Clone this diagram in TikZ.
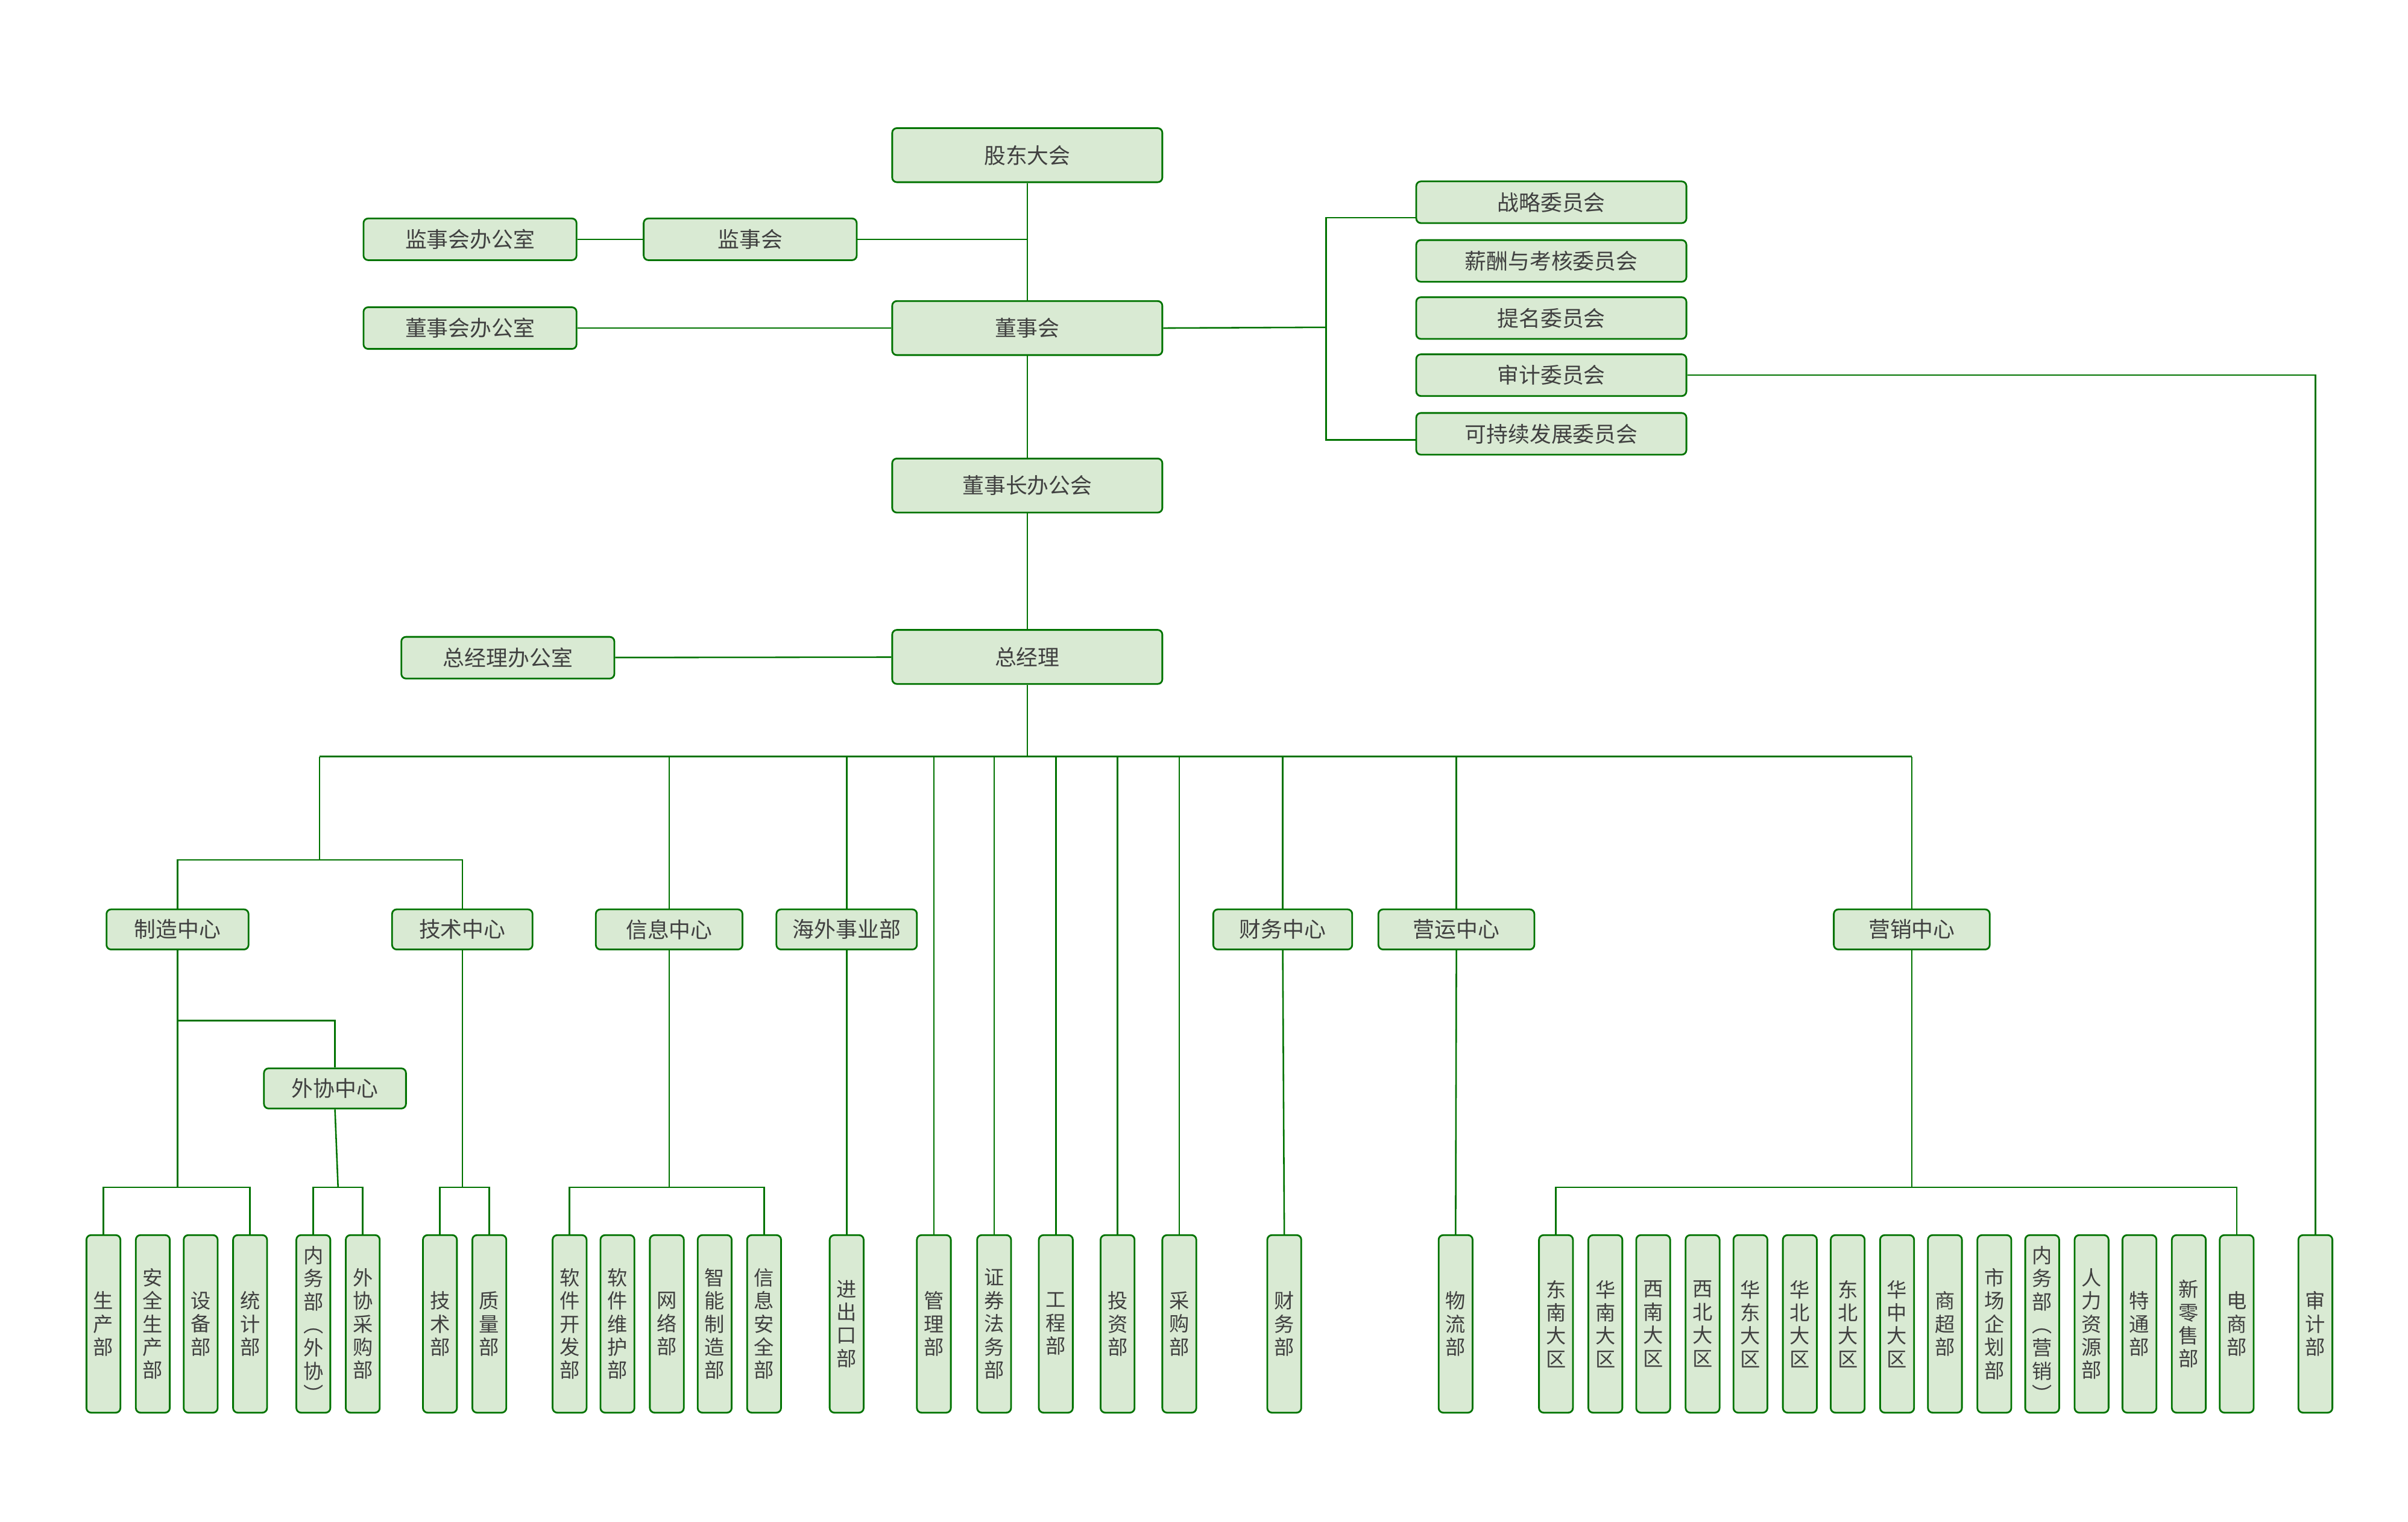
\documentclass[tikz,border=0pt]{standalone}
\usepackage{fontspec}
\setmainfont{Noto Sans CJK SC}
\begin{document}
\begin{tikzpicture}[x=1pt,y=-1pt,
  box/.style={draw=green!45!black,fill=boxfill,line width=1.1pt,rounded corners=3pt,text=txt,font=\fontsize{14}{16}\selectfont,inner sep=0pt},
  hb/.style={box,minimum width=175pt,minimum height=35pt},
  sb/.style={box,minimum width=138pt,minimum height=27pt},
  cb/.style={box,minimum width=175pt,minimum height=27pt},
  mb/.style={box,minimum height=26pt},
  lf/.style={box,minimum width=22pt,minimum height=115pt,align=center,font=\fontsize{13}{15}\selectfont},
  ln/.style={draw=green!45!black,line width=1pt}]
\definecolor{boxfill}{HTML}{D9EAD3}
\definecolor{txt}{HTML}{404040}
\useasboundingbox (0,0) rectangle (1560,985.5);
% top chain
\node[hb] (gd) at (665.5,100.5) {股东大会};
\node[hb] (ds) at (665.5,212.5) {董事会};
\node[hb] (dsz) at (665.5,314.5) {董事长办公会};
\node[hb] (zjl) at (665.5,425.5) {总经理};
\node[sb] (js) at (486,155) {监事会};
\node[sb] (jsb) at (304.5,155) {监事会办公室};
\node[sb] (dsb) at (304.5,212.5) {董事会办公室};
\node[sb] (zjb) at (329,426) {总经理办公室};
\node[cb] (c1) at (1005,131) {战略委员会};
\node[cb] (c2) at (1005,169) {薪酬与考核委员会};
\node[cb] (c3) at (1005,206) {提名委员会};
\node[cb] (c4) at (1005,243) {审计委员会};
\node[cb] (c5) at (1005,281) {可持续发展委员会};
\draw[ln] (gd) -- (ds) -- (dsz) -- (zjl);
\coordinate (jsj) at (665.5,155);
\draw[ln] (js) -- (jsj);
\draw[ln] (jsb) -- (js);
\draw[ln] (dsb) -- (ds);
\draw[ln] (zjb) -- (zjl);
\coordinate (cj) at (859,212);
\draw[ln] (ds.east) -- (cj);
\draw[ln] (c1.west |- 0,141) -- (859,141) -- (859,285) -- (c5.west |- 0,285);
% middle
\node[mb,minimum width=92pt] (zz) at (115,602) {制造中心};
\node[mb,minimum width=91pt] (js2) at (299.5,602) {技术中心};
\node[mb,minimum width=95pt] (xx) at (433.5,602) {信息中心};
\node[mb,minimum width=91pt] (hw) at (548.5,602) {海外事业部};
\node[mb,minimum width=90pt] (cw) at (831,602) {财务中心};
\node[mb,minimum width=101pt] (yy) at (943.5,602) {营运中心};
\node[mb,minimum width=101pt] (yx) at (1238.5,602) {营销中心};
\node[mb,minimum width=92pt] (wx) at (217,705) {外协中心};
% leaves
\def\L#1#2#3{\node[lf] (#1) at (#2,857.5) {#3};}
\L{a1}{67}{生\\产\\部}
\L{a2}{99}{安\\全\\生\\产\\部}
\L{a3}{130}{设\\备\\部}
\L{a4}{162}{统\\计\\部}
\L{b1}{203}{内\\务\\部\\︵\\外\\协\\︶}
\L{b2}{235}{外\\协\\采\\购\\部}
\L{t1}{285}{技\\术\\部}
\L{t2}{317}{质\\量\\部}
\L{x1}{369}{软\\件\\开\\发\\部}
\L{x2}{400}{软\\件\\维\\护\\部}
\L{x3}{432}{网\\络\\部}
\L{x4}{463}{智\\能\\制\\造\\部}
\L{x5}{495}{信\\息\\安\\全\\部}
\L{h1}{548.5}{进\\出\\口\\部}
\L{g1}{605}{管\\理\\部}
\L{g2}{644}{证\\券\\法\\务\\部}
\L{g3}{684}{工\\程\\部}
\L{g4}{724}{投\\资\\部}
\L{g5}{764}{采\\购\\部}
\L{f1}{832}{财\\务\\部}
\L{w1}{943}{物\\流\\部}
\L{y1}{1008}{东\\南\\大\\区}
\L{y2}{1040}{华\\南\\大\\区}
\L{y3}{1071}{西\\南\\大\\区}
\L{y4}{1103}{西\\北\\大\\区}
\L{y5}{1134}{华\\东\\大\\区}
\L{y6}{1166}{华\\北\\大\\区}
\L{y7}{1197}{东\\北\\大\\区}
\L{y8}{1229}{华\\中\\大\\区}
\L{y9}{1260}{商\\超\\部}
\L{y10}{1292}{市\\场\\企\\划\\部}
\L{y11}{1323}{内\\务\\部\\︵\\营\\销\\︶}
\L{y12}{1355}{人\\力\\资\\源\\部}
\L{y13}{1386}{特\\通\\部}
\L{y14}{1418}{新\\零\\售\\部}
\L{y15}{1449}{电\\商\\部}
\L{sj}{1500}{审\\计\\部}
% main bus
\coordinate (bus) at (665.5,490);
\draw[ln] (zjl) -- (bus);
\draw[ln] (207,490) -- (1238.5,490);
\draw[ln] (207,490) -- (207,557);
\draw[ln] (zz.north) |- (207,557) -| (js2.north);
\foreach \n in {xx,hw,cw,yy,yx} \draw[ln] (\n.north) -- (\n.north |- bus);
\foreach \n in {g1,g2,g3,g4,g5} \draw[ln] (\n.north) -- (\n.north |- bus);
\draw[ln] (zz.south) -- (115,769);
\draw[ln] (115,661) -| (wx.north);
\draw[ln] (a1.north) |- (a4.north |- 0,769) -- (a4.north);
\draw[ln] (wx.south) -- (219,769);
\draw[ln] (b1.north) |- (b2.north |- 0,769) -- (b2.north);
\draw[ln] (js2.south) -- (299.5,769);
\draw[ln] (t1.north) |- (t2.north |- 0,769) -- (t2.north);
\draw[ln] (xx.south) -- (433.5,769);
\draw[ln] (x1.north) |- (x5.north |- 0,769) -- (x5.north);
\draw[ln] (hw.south) -- (h1.north);
\draw[ln] (cw.south) -- (f1.north);
\draw[ln] (yy.south) -- (w1.north);
\draw[ln] (yx.south) -- (1238.5,769);
\draw[ln] (y1.north) |- (y15.north |- 0,769) -- (y15.north);
\draw[ln] (c4.east) -| (sj.north);
\end{tikzpicture}
\end{document}
